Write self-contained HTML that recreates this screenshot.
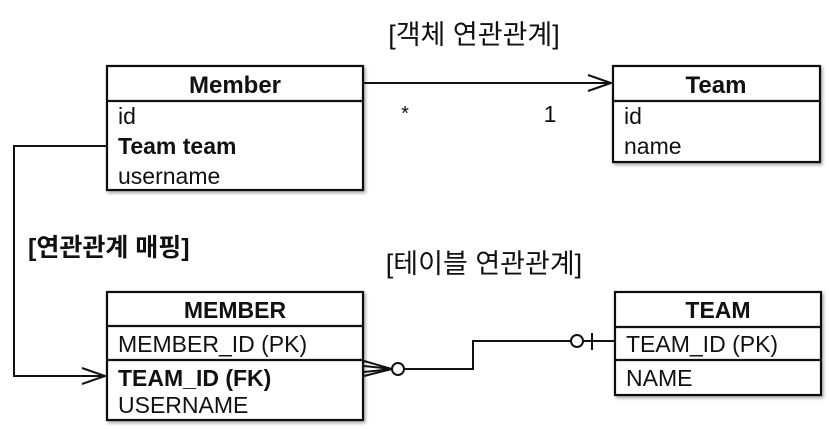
<!DOCTYPE html>
<html><head><meta charset="utf-8"><style>
html,body{margin:0;padding:0;background:#fff;width:829px;height:429px;overflow:hidden}
text{font-family:"Liberation Sans","Noto Sans CJK KR",sans-serif;fill:#111}
</style></head><body>
<svg width="829" height="429" viewBox="0 0 829 429" xmlns="http://www.w3.org/2000/svg">
<defs><filter id="sh" x="-5%" y="-5%" width="115%" height="120%"><feDropShadow dx="1.5" dy="2" stdDeviation="1.5" flood-color="#000" flood-opacity="0.35"/></filter></defs>
<g stroke="#111" stroke-width="2.2" fill="#fff">
<rect x="107" y="66" width="256" height="124" filter="url(#sh)"/>
<line x1="107" y1="101" x2="363" y2="101"/>
<rect x="613" y="66" width="207" height="96" filter="url(#sh)"/>
<line x1="613" y1="101" x2="820" y2="101"/>
<rect x="107" y="292" width="256" height="128" filter="url(#sh)"/>
<line x1="107" y1="326" x2="363" y2="326"/>
<line x1="107" y1="360" x2="363" y2="360"/>
<rect x="615" y="292" width="206" height="103" filter="url(#sh)"/>
<line x1="615" y1="327" x2="821" y2="327"/>
<line x1="615" y1="360" x2="821" y2="360"/>
</g>
<g stroke="#111" stroke-width="2" fill="none">
<line x1="363" y1="83" x2="610" y2="83"/>
<polyline points="588,75 611,83 588,91"/>
<polyline points="107,146 14,146 14,376 104,376"/>
<polyline points="82,368 105,376 82,384"/>
<polyline points="364,361 392,369 364,376"/>
<polyline points="364,366 392,369 364,372"/>
<circle cx="398" cy="369" r="6" fill="#fff"/>
<polyline points="404,369 473,369 473,341 571,341"/>
<circle cx="577" cy="341" r="6" fill="#fff"/>
<line x1="583" y1="341" x2="615" y2="341"/>
<line x1="592" y1="333" x2="592" y2="350"/>
</g>
<text x="474" y="44" font-size="27" text-anchor="middle">[객체 연관관계]</text>
<text x="235" y="93" font-size="24" font-weight="bold" text-anchor="middle">Member</text>
<text x="118" y="124" font-size="23">id</text>
<text x="118" y="154" font-size="23" font-weight="bold">Team team</text>
<text x="118" y="184" font-size="23">username</text>
<text x="716" y="93" font-size="24" font-weight="bold" text-anchor="middle">Team</text>
<text x="624" y="124" font-size="23">id</text>
<text x="624" y="154" font-size="23">name</text>
<text x="405" y="120" font-size="20" text-anchor="middle">*</text>
<text x="550" y="122" font-size="23" text-anchor="middle">1</text>
<text x="28" y="256" font-size="25" font-weight="bold">[연관관계 매핑]</text>
<text x="484" y="273" font-size="27" text-anchor="middle">[테이블 연관관계]</text>
<text x="235" y="318" font-size="23" font-weight="bold" text-anchor="middle">MEMBER</text>
<text x="118" y="352" font-size="23">MEMBER_ID (PK)</text>
<text x="118" y="386" font-size="23" font-weight="bold">TEAM_ID (FK)</text>
<text x="118" y="413" font-size="23">USERNAME</text>
<text x="718" y="318" font-size="23" font-weight="bold" text-anchor="middle">TEAM</text>
<text x="626" y="352" font-size="23">TEAM_ID (PK)</text>
<text x="626" y="386" font-size="23">NAME</text>
</svg>
</body></html>
